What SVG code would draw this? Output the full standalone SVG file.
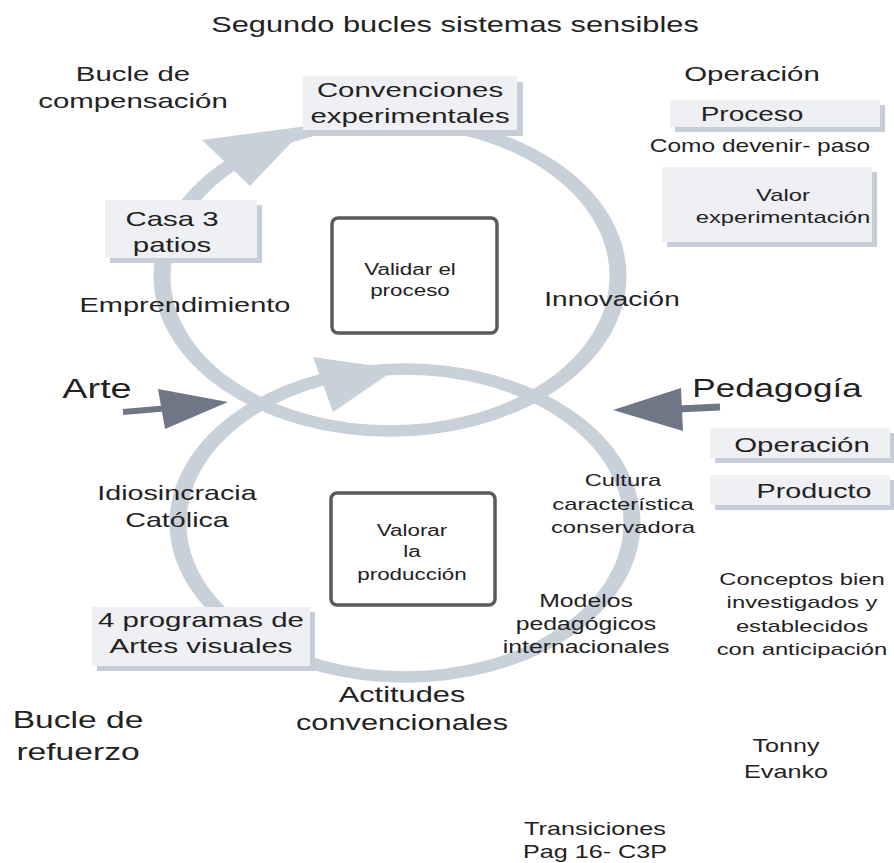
<svg xmlns="http://www.w3.org/2000/svg" width="894" height="863" viewBox="0 0 894 863">
  <style>
    text { font-family: "Liberation Sans", Arial, sans-serif; fill: #222; text-anchor: middle; }
    .ring { fill: none; stroke: #c8d0d9; stroke-width: 11.5; }
    .head { fill: #c8d0d9; }
    .input { stroke: #6f7685; fill: none; }
    .inhead { fill: #6f7685; }
    .shadow { fill: #c6cdd6; }
    .card { fill: #eef0f3; }
    .frame { fill: #ffffff; stroke: #5a5a5a; stroke-width: 3.5; }
  </style>

  <rect width="894" height="863" fill="#ffffff"/>

  <!-- loops and the arrows feeding into them -->
  <g id="connectors">
    <circle class="ring" cx="0" cy="0" r="155" transform="translate(390 276) scale(1.471 1)"/>
    <circle class="ring" cx="0" cy="0" r="154" transform="translate(405 523) scale(1.474 1)"/>
    <polygon class="head" points="202,140 250,186 307,126"/>
    <polygon class="head" points="313,357 333,412 396,369"/>
    <line class="input" x1="123" y1="412" x2="170" y2="408" stroke-width="6"/>
    <polygon class="inhead" points="158,389 165,429 228,402"/>
    <line class="input" x1="678" y1="409" x2="720" y2="407" stroke-width="7"/>
    <polygon class="inhead" points="613,410 681,388 683,431"/>
  </g>

  <g id="title">
    <text font-size="22" transform="matrix(1.4 0 0 1 455 32)">Segundo bucles sistemas sensibles</text>
  </g>

  <g id="bucle-compensacion">
    <text font-size="21" transform="matrix(1.4 0 0 1 133 81)"><tspan x="0" y="0">Bucle de</tspan><tspan x="0" y="27">compensación</tspan></text>
  </g>

  <g id="convenciones">
    <rect class="shadow" x="309" y="82" width="214" height="54"/>
    <rect class="card" x="303" y="76" width="214" height="54"/>
    <text font-size="21" transform="matrix(1.4 0 0 1 410 97)"><tspan x="0" y="0">Convenciones</tspan><tspan x="0" y="26">experimentales</tspan></text>
  </g>

  <g id="operacion-top">
    <text font-size="21" transform="matrix(1.4 0 0 1 752 81)">Operación</text>
  </g>

  <g id="proceso">
    <rect class="shadow" x="675" y="105" width="210" height="27"/>
    <rect class="card" x="670" y="100" width="210" height="27"/>
    <text font-size="20" transform="matrix(1.4 0 0 1 752 121)">Proceso</text>
  </g>

  <g id="como-devenir">
    <text font-size="17.5" transform="matrix(1.4 0 0 1 760 152)">Como devenir- paso</text>
  </g>

  <g id="valor-experimentacion">
    <rect class="shadow" x="667" y="172" width="210" height="75"/>
    <rect class="card" x="662" y="167" width="210" height="75"/>
    <text font-size="17" transform="matrix(1.4 0 0 1 783 201)"><tspan x="0" y="0">Valor</tspan><tspan x="0" y="22">experimentación</tspan></text>
  </g>

  <g id="casa-3-patios">
    <rect class="shadow" x="110" y="205" width="152" height="58"/>
    <rect class="card" x="105" y="200" width="152" height="58"/>
    <text font-size="21" transform="matrix(1.4 0 0 1 172 226)"><tspan x="0" y="0">Casa 3</tspan><tspan x="0" y="26">patios</tspan></text>
  </g>

  <g id="validar">
    <rect class="frame" x="332" y="218" width="165" height="115" rx="6"/>
    <text font-size="16" transform="matrix(1.4 0 0 1 410 275)"><tspan x="0" y="0">Validar el</tspan><tspan x="0" y="21">proceso</tspan></text>
  </g>

  <g id="emprendimiento">
    <text font-size="20.7" transform="matrix(1.4 0 0 1 185 312)">Emprendimiento</text>
  </g>

  <g id="innovacion">
    <text font-size="20" transform="matrix(1.4 0 0 1 612 306)">Innovación</text>
  </g>

  <g id="arte">
    <text font-size="27" transform="matrix(1.4 0 0 1 97 398)">Arte</text>
  </g>

  <g id="pedagogia">
    <text font-size="25" transform="matrix(1.4 0 0 1 777 397)">Pedagogía</text>
  </g>

  <g id="operacion">
    <rect class="shadow" x="715" y="433" width="180" height="30"/>
    <rect class="card" x="710" y="428" width="180" height="30"/>
    <text font-size="21" transform="matrix(1.4 0 0 1 802 452)">Operación</text>
  </g>

  <g id="producto">
    <rect class="shadow" x="715" y="480" width="180" height="30"/>
    <rect class="card" x="710" y="475" width="180" height="30"/>
    <text font-size="20.5" transform="matrix(1.4 0 0 1 814 498)">Producto</text>
  </g>

  <g id="idiosincracia">
    <text font-size="20.5" transform="matrix(1.4 0 0 1 177 500)"><tspan x="0" y="0">Idiosincracia</tspan><tspan x="0" y="27">Católica</tspan></text>
  </g>

  <g id="cultura">
    <text font-size="17" transform="matrix(1.4 0 0 1 623 486)"><tspan x="0" y="0">Cultura</tspan><tspan x="0" y="24">característica</tspan><tspan x="0" y="47">conservadora</tspan></text>
  </g>

  <g id="valorar">
    <rect class="frame" x="331" y="493" width="164" height="112" rx="6"/>
    <text font-size="16" transform="matrix(1.4 0 0 1 412 536)"><tspan x="0" y="0">Valorar</tspan><tspan x="0" y="21">la</tspan><tspan x="0" y="44">producción</tspan></text>
  </g>

  <g id="programas">
    <rect class="shadow" x="97" y="612" width="218" height="59"/>
    <rect class="card" x="92" y="607" width="218" height="59"/>
    <text font-size="21" transform="matrix(1.4 0 0 1 201 627)"><tspan x="0" y="0">4 programas de</tspan><tspan x="0" y="26">Artes visuales</tspan></text>
  </g>

  <g id="modelos">
    <text font-size="17.7" transform="matrix(1.4 0 0 1 586 607)"><tspan x="0" y="0">Modelos</tspan><tspan x="0" y="23">pedagógicos</tspan><tspan x="0" y="46">internacionales</tspan></text>
  </g>

  <g id="conceptos">
    <text font-size="17" transform="matrix(1.4 0 0 1 802 585)"><tspan x="0" y="0">Conceptos bien</tspan><tspan x="0" y="23">investigados y</tspan><tspan x="0" y="47">establecidos</tspan><tspan x="0" y="70">con anticipación</tspan></text>
  </g>

  <g id="actitudes">
    <text font-size="22" transform="matrix(1.4 0 0 1 402 702)"><tspan x="0" y="0">Actitudes</tspan><tspan x="0" y="28">convencionales</tspan></text>
  </g>

  <g id="bucle-refuerzo">
    <text font-size="24" transform="matrix(1.4 0 0 1 78 728)"><tspan x="0" y="0">Bucle de</tspan><tspan x="0" y="32">refuerzo</tspan></text>
  </g>

  <g id="autor">
    <text font-size="18" transform="matrix(1.4 0 0 1 786 752)"><tspan x="0" y="0">Tonny</tspan><tspan x="0" y="26">Evanko</tspan></text>
  </g>

  <g id="transiciones">
    <text font-size="18" transform="matrix(1.4 0 0 1 595 835)"><tspan x="0" y="0">Transiciones</tspan><tspan x="0" y="23">Pag 16- C3P</tspan></text>
  </g>
</svg>
